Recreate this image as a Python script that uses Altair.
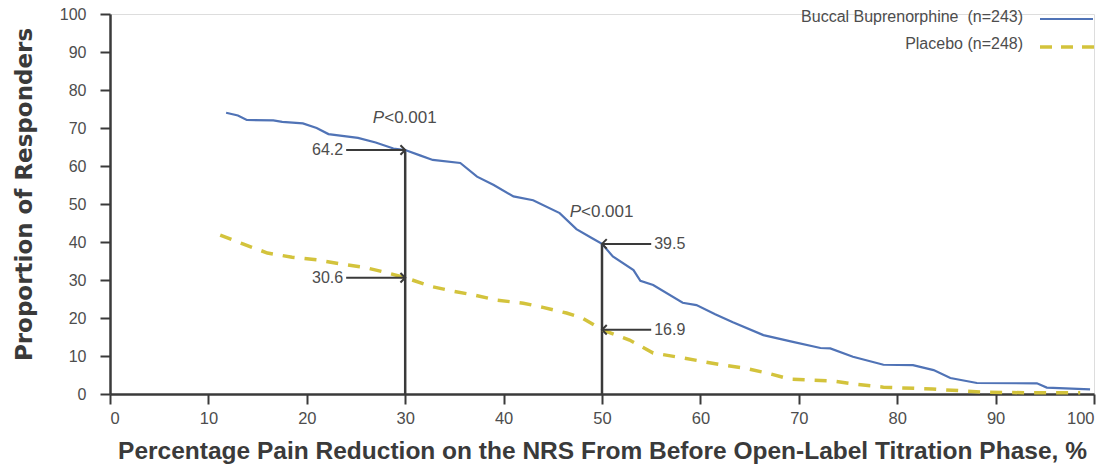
import altair as alt
import pandas as pd

# Responder curves: proportion of patients (%) reaching at least a given
# percentage reduction in pain on the NRS.
bup_x = [11.8, 13.0, 13.9, 16.6, 17.5, 19.6, 21.0, 22.2, 25.2, 27.0, 28.8, 30.0,
         31.5, 32.8, 35.6, 37.3, 39.0, 41.0, 43.0, 45.7, 47.4, 49.0, 50.0, 51.1,
         53.2, 53.9, 55.2, 58.2, 59.6, 61.5, 63.3, 66.4, 69.4, 72.2, 73.2, 75.5,
         78.6, 81.6, 83.7, 85.4, 88.1, 94.2, 95.2, 99.6]
bup_y = [74.0, 73.3, 72.1, 72.0, 71.6, 71.2, 70.0, 68.4, 67.4, 66.2, 64.6, 64.2,
         62.8, 61.6, 60.8, 57.2, 55.0, 52.0, 51.0, 47.6, 43.4, 41.0, 39.5, 36.2,
         32.6, 29.8, 28.7, 24.0, 23.4, 21.0, 18.9, 15.5, 13.7, 12.1, 12.0, 9.8,
         7.7, 7.6, 6.3, 4.2, 2.9, 2.8, 1.7, 1.2]

pla_x = [11.2, 13.5, 16.0, 18.5, 21.0, 23.5, 25.7, 27.7, 30.0, 32.8, 35.0, 36.9,
         39.3, 42.0, 44.0, 46.4, 48.0, 50.0, 52.8, 55.2, 58.2, 62.3, 64.5, 66.8,
         69.1, 73.5, 76.0, 78.6, 83.6, 88.7, 93.8, 98.6]
pla_y = [41.8, 39.5, 37.1, 36.0, 35.3, 34.2, 33.4, 32.2, 30.6, 28.2, 27.0, 26.1,
         24.7, 23.9, 22.8, 21.3, 20.0, 16.9, 14.2, 10.8, 9.5, 7.6, 6.8, 5.5,
         3.9, 3.4, 2.5, 1.8, 1.3, 0.5, 0.3, 0.3]

# Highlighted thresholds (30% and 50% pain reduction)
cut_x = [30, 50]
cut_bup = [64.2, 39.5]
cut_pla = [30.6, 16.9]
arrow_tail = [24, 55]          # where the value arrows start
arrow_dir = ["right", "left"]
p_label = ["<0.001", "<0.001"]
p_level = [72.6, 47.9]

# non-breaking space keeps the wider gap before the count
legend_names = ["Buccal Buprenorphine\u00a0 (n=243)", "Placebo (n=248)"]

BLUE = "#5073b6"
GOLD = "#d3c33c"
INK = "#3a3a3a"
TEXT = "#4d4d4d"
FONT = "Liberation Sans"

curves = pd.DataFrame({"x": bup_x, "y": bup_y})
placebo = pd.DataFrame({"x": pla_x, "y": pla_y})

cuts = pd.DataFrame({"x": cut_x, "top": cut_bup})
marks = pd.DataFrame({
    "x": cut_x * 2,
    "y": cut_bup + cut_pla,
    "tail": arrow_tail * 2,
    "dir": arrow_dir * 2,
    "label": [f"{v:.1f}" for v in cut_bup + cut_pla],
})
pvals = pd.DataFrame({"x": cut_x, "y": p_level, "rest": p_label})
leg = pd.DataFrame({"name": legend_names, "row": [0, 1]})

x_scale = alt.Scale(domain=[0, 100], nice=False, zero=False)
y_scale = alt.Scale(domain=[0, 100], nice=False)

x_axis = alt.Axis(
    values=list(range(0, 101, 10)), grid=False,
    title="Percentage Pain Reduction on the NRS From Before Open-Label Titration Phase, %",
    titleFont=FONT, titleFontSize=24.5, titleFontWeight="bold", titleColor=INK,
    titleBaseline="alphabetic", titleY=64,
    labelFont=FONT, labelFontSize=16.5, labelColor=TEXT, labelPadding=6,
    tickSize=10, tickWidth=2, tickColor=INK, domainWidth=2.5, domainColor=INK,
)
y_axis = alt.Axis(
    values=list(range(0, 101, 10)), grid=False,
    title="Proportion of Responders",
    titleFont="DejaVu Sans", titleFontSize=23, titleFontWeight="bold", titleColor=INK,
    titleX=-86, titleY=180, titleBaseline="middle", titleAlign="center", titleAngle=270,
    labelFont=FONT, labelFontSize=16, labelColor=TEXT, labelPadding=14,
    tickSize=10, tickWidth=2, tickColor=INK, domainWidth=2.5, domainColor=INK,
)


def X(f="x"):
    return alt.X(f"{f}:Q", scale=x_scale, axis=x_axis)


def Y(f="y"):
    return alt.Y(f"{f}:Q", scale=y_scale, axis=y_axis)


# vertical threshold lines
verticals = alt.Chart(cuts).transform_calculate(zero="0").mark_rule(
    color=INK, strokeWidth=2.5
).encode(x=X(), y=Y("zero"), y2="top:Q")

bup_line = alt.Chart(curves).mark_line(color=BLUE, strokeWidth=2.2).encode(x=X(), y=Y())
pla_line = alt.Chart(placebo).mark_line(
    color=GOLD, strokeWidth=3.5, strokeDash=[12, 10]
).encode(x=X(), y=Y())

arrows = alt.Chart(marks).mark_rule(color=INK, strokeWidth=2).encode(
    x=X("tail"), x2="x:Q", y=Y()
)
head_right = alt.Chart(marks).transform_filter("datum.dir == 'right'").mark_point(
    shape="M-1,-1L0,0L-1,1", filled=False, color=INK, strokeWidth=2, size=90, opacity=1
).encode(x=X(), y=Y())
head_left = alt.Chart(marks).transform_filter("datum.dir == 'left'").mark_point(
    shape="M1,-1L0,0L1,1", filled=False, color=INK, strokeWidth=2, size=90, opacity=1
).encode(x=X(), y=Y())

value_left = alt.Chart(marks).transform_filter("datum.dir == 'right'").mark_text(
    align="right", baseline="middle", dx=-3, font=FONT, fontSize=16, color=TEXT
).encode(x=X("tail"), y=Y(), text="label:N")
value_right = alt.Chart(marks).transform_filter("datum.dir == 'left'").mark_text(
    align="left", baseline="middle", dx=3, font=FONT, fontSize=16, color=TEXT
).encode(x=X("tail"), y=Y(), text="label:N")

p_italic = alt.Chart(pvals).mark_text(
    align="right", baseline="middle", dx=-21, font=FONT, fontSize=17,
    fontStyle="italic", color=TEXT
).encode(x=X(), y=Y(), text=alt.value("P"))
p_rest = alt.Chart(pvals).mark_text(
    align="left", baseline="middle", dx=-21, font=FONT, fontSize=17, color=TEXT
).encode(x=X(), y=Y(), text="rest:N")

# legend, top right of the plot area: label followed by its line sample
leg_text_1 = alt.Chart(leg).transform_filter("datum.row == 0").mark_text(
    align="right", baseline="middle", font=FONT, fontSize=16, color=TEXT
).encode(x=alt.value(913), y=alt.value(3), text="name:N")
leg_text_2 = alt.Chart(leg).transform_filter("datum.row == 1").mark_text(
    align="right", baseline="middle", font=FONT, fontSize=16, color=TEXT
).encode(x=alt.value(913), y=alt.value(30), text="name:N")
leg_blue = alt.Chart(leg).transform_filter("datum.row == 0").mark_rule(
    color=BLUE, strokeWidth=2.2
).encode(x=alt.value(930), x2=alt.value(983), y=alt.value(5))
leg_gold = alt.Chart(leg).transform_filter("datum.row == 1").mark_rule(
    color=GOLD, strokeWidth=3.5, strokeDash=[12, 9]
).encode(x=alt.value(930), x2=alt.value(984), y=alt.value(33))

chart = alt.layer(
    verticals, pla_line, bup_line, arrows, head_right, head_left,
    value_left, value_right, p_italic, p_rest,
    leg_text_1, leg_text_2, leg_blue, leg_gold
).properties(
    width=984, height=380,
    padding={"left": 110, "top": 14, "right": 26, "bottom": 74},
    autosize=alt.AutoSizeParams(type="none"),
).configure_view(stroke=None).configure(background="white")

chart.save("out.html", embed_options={"renderer": "svg", "actions": False})
